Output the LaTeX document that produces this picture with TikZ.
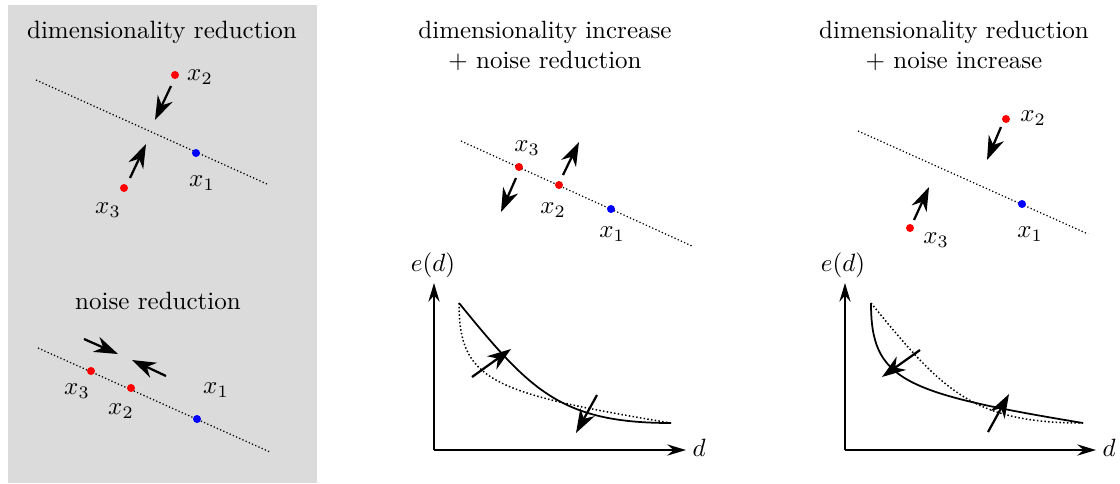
\documentclass[tikz,border=0pt]{standalone}
\usetikzlibrary{arrows.meta}
\begin{document}
\begin{tikzpicture}[x=0.4pt,y=-0.4pt,
  dot/.style={circle,fill,inner sep=0pt,minimum size=3.2pt},
  rdot/.style={dot,fill=red},
  bdot/.style={dot,fill=blue},
  lab/.style={inner sep=0pt},
  move/.style={line width=0.9pt,-{Stealth[length=9.5pt,width=6.5pt,inset=3pt]}},
  axis/.style={line width=0.6pt,-{Stealth[length=7.5pt,width=4.5pt,inset=2.5pt]}},
  curve/.style={line width=0.7pt},
  dcurve/.style={line width=0.6pt,dash pattern=on 0.6pt off 0.9pt},
  subspace/.style={line width=0.5pt,dash pattern=on 0.5pt off 0.9pt}]
\useasboundingbox (0,0) rectangle (1120,483);
\fill[black!14] (8,5) rectangle (317,483);

% ---------- panel 1 top: dimensionality reduction
\node[lab] (t1) at (162,32) {dimensionality reduction};
\draw[subspace] (36,80) -- (267,184);
\node[rdot] (a2) at (175,75) {};
\node[lab] (la2) at (200,77) {$x_2$};
\node[bdot] (a1) at (196,153) {};
\node[lab] (la1) at (202,183) {$x_1$};
\node[rdot] (a3) at (124,188) {};
\node[lab] (la3) at (108,210) {$x_3$};
\draw[move] (171,86) -- (155,120);
\draw[move] (130,178) -- (146,144);

% ---------- panel 1 bottom: noise reduction
\node[lab] (t2) at (158,301) {noise reduction};
\draw[subspace] (38,348) -- (270,452);
\node[rdot] (b3) at (91,371) {};
\node[lab] (lb3) at (77,391) {$x_3$};
\node[rdot] (b2) at (131,388) {};
\node[lab] (lb2) at (121,411) {$x_2$};
\node[bdot] (b1) at (197,419) {};
\node[lab] (lb1) at (216,390) {$x_1$};
\draw[move] (84,339) -- (118,354);
\draw[move] (166,376) -- (132,360);

% ---------- panel 2: dimensionality increase + noise reduction
\node[lab,align=center] (t3) at (545,46) {dimensionality increase\\+ noise reduction};
\draw[subspace] (461,141) -- (692,246);
\node[rdot] (c3) at (519,167) {};
\node[lab] (lc3) at (527,148) {$x_3$};
\node[rdot] (c2) at (559,185) {};
\node[lab] (lc2) at (553,210) {$x_2$};
\node[bdot] (c1) at (611,209) {};
\node[lab] (lc1) at (612,234) {$x_1$};
\draw[move] (563,175) -- (579,142);
\draw[move] (516,178) -- (501,212);

\coordinate (o2) at (434,450);
\draw[axis] (o2) -- (434,283);
\draw[axis] (o2) -- (686,450);
\node[lab] (ed2) at (433,265) {$e(d)$};
\node[lab] (d2) at (699,448) {$d$};
\draw[curve] (459,303) .. controls (530,390) and (560,423) .. (671,423);
\draw[dcurve] (459,303) .. controls (459,380) and (490,393) .. (671,423);
\draw[move] (472,377) -- (511,349);
\draw[move] (597,395) -- (576,433);

% ---------- panel 3: dimensionality reduction + noise increase
\node[lab,align=center] (t4) at (954,46) {dimensionality reduction\\+ noise increase};
\draw[subspace] (858,131) -- (1088,234);
\node[rdot] (e2) at (1006,119) {};
\node[lab] (le2) at (1033,118) {$x_2$};
\node[bdot] (e1) at (1022,204) {};
\node[lab] (le1) at (1030,234) {$x_1$};
\node[rdot] (e3) at (910,228) {};
\node[lab] (le3) at (936,240) {$x_3$};
\draw[move] (1001,127) -- (987,160);
\draw[move] (914,220) -- (929,187);

\coordinate (o3) at (845,450);
\draw[axis] (o3) -- (845,283);
\draw[axis] (o3) -- (1096,450);
\node[lab] (ed3) at (843,265) {$e(d)$};
\node[lab] (d3) at (1109,448) {$d$};
\draw[dcurve] (871,303) .. controls (942,390) and (972,423) .. (1083,423);
\draw[curve] (871,303) .. controls (871,380) and (902,393) .. (1083,423);
\draw[move] (920,350) -- (882,377);
\draw[move] (988,432) -- (1009,394);
\end{tikzpicture}
\end{document}
